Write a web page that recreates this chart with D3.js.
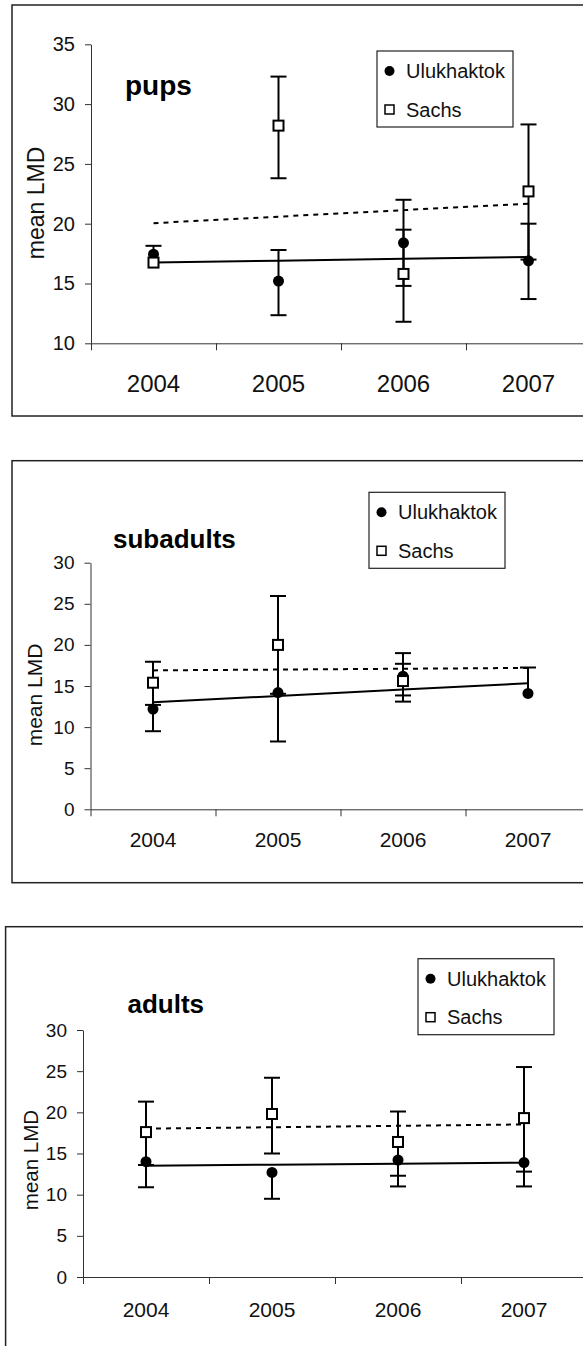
<!DOCTYPE html>
<html>
<head>
<meta charset="utf-8">
<script src="https://cdn.jsdelivr.net/npm/d3@7/dist/d3.min.js"></script>
<style>
  html, body { margin: 0; padding: 0; background: #fff; }
  svg { display: block; font-family: "Liberation Sans", Arial, sans-serif; }
</style>
</head>
<body>
<div id="chart"></div>
<script>
// categories
const years = ['2004', '2005', '2006', '2007'];
const seriesNames = ['Ulukhaktok', 'Sachs'];

// pups
const pupsUluk = [17.45, 15.2, 18.4, 16.9];
const pupsUlukLo = [null, 12.35, 14.8, 13.7];
const pupsUlukHi = [18.15, 17.8, 22.0, 20.0];
const pupsSachs = [16.75, 28.2, 15.8, 22.7];
const pupsSachsLo = [null, 23.8, 11.8, 17.0];
const pupsSachsHi = [null, 32.3, 19.5, 28.3];

// subadults
const subUluk = [12.2, 14.2, 16.2, 14.1];
const subUlukLo = [9.5, 8.25, 13.1, null];
const subUlukHi = [null, null, 19.0, 17.25];
const subSachs = [15.4, 20.0, 15.6, null];
const subSachsLo = [12.7, 14.05, 13.85, null];
const subSachsHi = [17.95, 25.95, 17.7, null];

// adults
const adUluk = [14.0, 12.7, 14.2, 13.9];
const adUlukLo = [10.9, 9.5, 11.0, 11.0];
const adUlukHi = [null, null, null, null];
const adSachs = [17.6, 19.8, 16.4, 19.3];
const adSachsLo = [13.6, 15.0, 12.3, 12.8];
const adSachsHi = [21.3, 24.2, 20.1, 25.5];

// y tick values
const pupsTicks = [10, 15, 20, 25, 30, 35];
const otherTicks = [0, 5, 10, 15, 20, 25, 30];

const width = 583, height = 1346;

const svg = d3.select('#chart').append('svg')
  .attr('width', width)
  .attr('height', height);

// layout of the three panels (pixels)
const panels = [
  {
    title: 'pups', uluk: [pupsUluk, pupsUlukLo, pupsUlukHi], sachs: [pupsSachs, pupsSachsLo, pupsSachsHi],
    ticks: pupsTicks, frame: [12, 5, 620, 411],
    x0: 91, bw: 125, yTop: 44.3, yBot: 343.3,
    titleX: 125, titleY: 95, titleSize: 28,
    tickFont: 20, yearFont: 24, yearY: 392, labelFont: 23, labelX: 44, labelY: 203,
    legend: [377, 51, 136, 76]
  },
  {
    title: 'subadults', uluk: [subUluk, subUlukLo, subUlukHi], sachs: [subSachs, subSachsLo, subSachsHi],
    ticks: otherTicks, frame: [12, 460.7, 620, 422],
    x0: 90.5, bw: 125, yTop: 562.7, yBot: 809.3,
    titleX: 113, titleY: 548, titleSize: 26,
    tickFont: 19, yearFont: 21, yearY: 847, labelFont: 21, labelX: 42, labelY: 695,
    legend: [369, 492.3, 136, 76]
  },
  {
    title: 'adults', uluk: [adUluk, adUlukLo, adUlukHi], sachs: [adSachs, adSachsLo, adSachsHi],
    ticks: otherTicks, frame: [5.6, 926.7, 620, 500],
    x0: 83, bw: 126, yTop: 1030, yBot: 1277,
    titleX: 127.5, titleY: 1012.7, titleSize: 26,
    tickFont: 19, yearFont: 21, yearY: 1317, labelFont: 20.5, labelX: 38, labelY: 1160,
    legend: [418, 958.7, 136, 76]
  }
];

function trend(vals) {
  // least squares fit on the non-null points, x = category index
  const pts = vals.map((v, i) => [i, v]).filter(d => d[1] != null);
  const mx = d3.mean(pts, d => d[0]);
  const my = d3.mean(pts, d => d[1]);
  const slope = d3.sum(pts, d => (d[0] - mx) * (d[1] - my)) / d3.sum(pts, d => (d[0] - mx) * (d[0] - mx));
  return i => my + slope * (i - mx);
}

panels.forEach(p => {
  const g = svg.append('g');

  g.append('rect')
    .attr('x', p.frame[0]).attr('y', p.frame[1])
    .attr('width', p.frame[2]).attr('height', p.frame[3])
    .attr('fill', 'none')
    .attr('stroke', '#222')
    .attr('stroke-width', 1.5);

  const x = d3.scaleBand().domain(years).range([p.x0, p.x0 + p.bw * years.length]).padding(0);
  const xEdge = d3.scaleLinear().domain([0, years.length]).range([p.x0, p.x0 + p.bw * years.length]);
  const y = d3.scaleLinear().domain([d3.min(p.ticks), d3.max(p.ticks)]).range([p.yBot, p.yTop]);
  const cx = d => x(d) + x.bandwidth() / 2;

  // y axis
  const yAxis = g.append('g')
    .attr('transform', `translate(${p.x0},0)`)
    .call(d3.axisLeft(y).tickValues(p.ticks).tickSize(6).tickPadding(10).tickSizeOuter(0));
  yAxis.select('.domain').attr('stroke', '#333');
  yAxis.selectAll('line').attr('stroke', '#333');
  yAxis.selectAll('text').attr('font-size', p.tickFont).attr('fill', '#111')
    .attr('font-family', '"Liberation Sans", Arial, sans-serif');

  // x axis: ticks at category boundaries, labels at centres
  const xAxis = g.append('g')
    .attr('transform', `translate(0,${p.yBot})`)
    .call(d3.axisBottom(xEdge).tickValues(d3.range(years.length + 1)).tickFormat('').tickSize(7).tickSizeOuter(0));
  xAxis.select('.domain').attr('stroke', '#333');
  xAxis.selectAll('line').attr('stroke', '#333');

  g.selectAll('.year')
    .data(years)
    .enter().append('text')
    .attr('x', cx)
    .attr('y', p.yearY)
    .attr('text-anchor', 'middle')
    .attr('font-size', p.yearFont)
    .attr('fill', '#111')
    .text(d => d);

  g.append('text')
    .attr('transform', `translate(${p.labelX},${p.labelY}) rotate(-90)`)
    .attr('text-anchor', 'middle')
    .attr('font-size', p.labelFont)
    .attr('fill', '#111')
    .text('mean LMD');

  g.append('text')
    .attr('x', p.titleX).attr('y', p.titleY)
    .attr('font-size', p.titleSize)
    .attr('font-weight', 'bold')
    .attr('fill', '#000')
    .text(p.title);

  // trend lines across all four years
  const lineGen = d3.line().x(i => cx(years[i])).y(v => 0);
  [[p.uluk[0], null], [p.sachs[0], '5,5']].forEach(([vals, dash]) => {
    const f = trend(vals);
    g.append('path')
      .datum(d3.range(years.length))
      .attr('d', d3.line().x(i => cx(years[i])).y(i => y(f(i))))
      .attr('fill', 'none')
      .attr('stroke', '#000')
      .attr('stroke-width', 2)
      .attr('stroke-dasharray', dash);
  });

  // error bars
  [p.uluk, p.sachs].forEach(([vals, lo, hi]) => {
    const bars = [];
    vals.forEach((v, i) => {
      if (v == null) return;
      if (lo[i] != null) bars.push({ year: years[i], v, e: lo[i] });
      if (hi[i] != null) bars.push({ year: years[i], v, e: hi[i] });
    });
    const eg = g.append('g').attr('stroke', '#000').attr('stroke-width', 2);
    eg.selectAll('.stem').data(bars).enter().append('line')
      .attr('x1', d => cx(d.year)).attr('x2', d => cx(d.year))
      .attr('y1', d => y(d.v)).attr('y2', d => y(d.e));
    eg.selectAll('.cap').data(bars).enter().append('line')
      .attr('x1', d => cx(d.year) - 8).attr('x2', d => cx(d.year) + 8)
      .attr('y1', d => y(d.e)).attr('y2', d => y(d.e));
  });

  // markers
  const ulukPts = p.uluk[0].map((v, i) => ({ year: years[i], v })).filter(d => d.v != null);
  const sachsPts = p.sachs[0].map((v, i) => ({ year: years[i], v })).filter(d => d.v != null);

  g.selectAll('.uluk').data(ulukPts).enter().append('circle')
    .attr('cx', d => cx(d.year))
    .attr('cy', d => y(d.v))
    .attr('r', 5.5)
    .attr('fill', '#000');

  g.selectAll('.sachs').data(sachsPts).enter().append('rect')
    .attr('x', d => cx(d.year) - 5)
    .attr('y', d => y(d.v) - 5)
    .attr('width', 10)
    .attr('height', 10)
    .attr('fill', '#fff')
    .attr('stroke', '#000')
    .attr('stroke-width', 2);

  // legend
  const [lx, ly, lw, lh] = p.legend;
  const lg = g.append('g').attr('transform', `translate(${lx},${ly})`);
  lg.append('rect')
    .attr('width', lw).attr('height', lh)
    .attr('fill', '#fff')
    .attr('stroke', '#222')
    .attr('stroke-width', 1.2);
  seriesNames.forEach((name, i) => {
    const yy = 20 + i * 38.5;
    if (i === 0) {
      lg.append('circle').attr('cx', 12.5).attr('cy', yy).attr('r', 5).attr('fill', '#000');
    } else {
      lg.append('rect').attr('x', 8).attr('y', yy - 4.5).attr('width', 9).attr('height', 9)
        .attr('fill', '#fff').attr('stroke', '#000').attr('stroke-width', 1.5);
    }
    lg.append('text')
      .attr('x', 29)
      .attr('y', yy)
      .attr('dy', '0.35em')
      .attr('font-size', 20)
      .attr('fill', '#111')
      .text(name);
  });
});
</script>
</body>
</html>
